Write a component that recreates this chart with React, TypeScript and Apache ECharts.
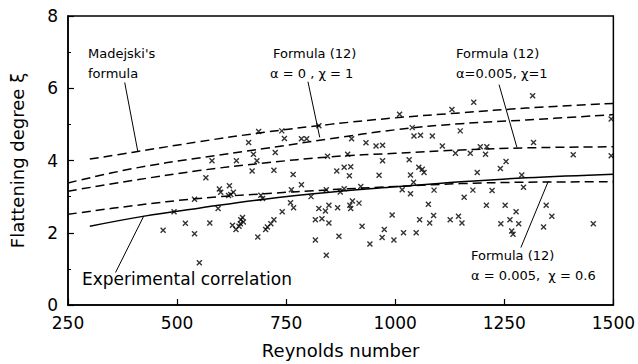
import React, { useEffect, useRef } from "react";
import * as echarts from "echarts";

// ---- axis ticks ----
const xTicks = [250, 500, 750, 1000, 1250, 1500];
const yTicks = [0, 2, 4, 6, 8];

// ---- curves (Reynolds number -> flattening degree) ----
const madejskiX = [300, 400, 550, 700, 850, 1000, 1150, 1300, 1500];
const madejskiY = [4.04, 4.23, 4.52, 4.78, 5.0, 5.18, 5.32, 5.45, 5.58];

const f12a0c1X = [250, 400, 550, 700, 850, 1000, 1150, 1300, 1500];
const f12a0c1Y = [3.38, 3.78, 4.07, 4.33, 4.6, 4.85, 5.02, 5.12, 5.27];

const f12a005c1X = [250, 400, 550, 700, 850, 1000, 1150, 1300, 1500];
const f12a005c1Y = [3.15, 3.45, 3.72, 3.93, 4.1, 4.2, 4.29, 4.35, 4.38];

const f12a005c06X = [250, 400, 550, 700, 850, 1000, 1150, 1300, 1500];
const f12a005c06Y = [2.51, 2.75, 2.95, 3.08, 3.19, 3.28, 3.36, 3.4, 3.41];

const expX = [300, 425, 550, 700, 850, 1000, 1150, 1300, 1500];
const expY = [2.18, 2.46, 2.68, 2.93, 3.12, 3.27, 3.41, 3.52, 3.62];

// ---- measured points ----
const measRe = [
  566, 580, 636, 664, 675, 683, 687, 740, 746, 785, 797, 725, 672, 722, 766, 825, 845, 866, 883, 898,
  895, 891, 900, 933, 956, 971, 971, 963, 1010, 1039, 1043, 1058, 1085, 1032, 1035, 1054, 1062, 1066, 1108, 1130,
  1138, 1149, 1172, 1180, 1188, 1195, 1210, 1207, 1241, 1254, 1290, 1315, 1317, 1408, 1495, 1495,
  468, 493, 519, 540, 540, 551, 575, 594, 597, 600, 620, 618, 629, 623, 627, 635, 642, 645, 646, 650,
  652, 685, 692, 696, 703, 707, 715, 722, 741, 760, 767, 762, 785, 807, 817, 832, 848, 825, 840, 848,
  868, 842, 874, 871, 817, 842, 883, 921, 1042, 1016, 1035, 1089, 1178, 1158, 1076, 902, 896, 898, 917, 993,
  1088, 1056, 1079, 1126, 1145, 1153, 924, 975, 970, 997, 1019, 1048, 942, 1222, 1294, 1209, 1252, 1277, 1263, 1242,
  1283, 1267, 1270, 1346, 1359, 1340, 1454,
];
const measXi = [
  3.52, 3.99, 3.99, 4.5, 4.17, 3.99, 4.8, 4.82, 4.61, 4.6, 4.6, 4.22, 3.71, 3.73, 3.61, 4.96, 4.12, 3.71, 3.81, 3.83,
  3.58, 4.17, 4.6, 4.49, 4.4, 4.42, 3.99, 3.59, 5.28, 4.91, 4.68, 4.7, 4.68, 4.02, 3.6, 3.81, 3.76, 3.67, 4.4, 5.41,
  4.2, 4.82, 4.2, 5.61, 3.67, 4.38, 4.38, 4.17, 3.78, 3.97, 3.6, 5.79, 4.5, 4.16, 5.15, 4.13,
  2.07, 2.58, 2.26, 1.97, 2.93, 1.17, 2.27, 2.67, 3.21, 3.12, 3.3, 3.03, 3.12, 3.06, 2.21, 2.09, 2.18, 2.25, 2.36, 2.42,
  2.3, 1.88, 3.04, 2.95, 2.09, 2.16, 2.25, 2.36, 2.58, 2.83, 2.69, 3.19, 3.33, 3.0, 2.36, 2.39, 2.27, 2.67, 2.6, 2.76,
  2.69, 3.19, 3.13, 1.9, 1.8, 1.38, 3.22, 3.28, 3.4, 3.19, 3.08, 3.18, 3.18, 2.98, 2.79, 2.88, 2.76, 2.67, 2.82, 2.49,
  2.48, 2.36, 2.27, 2.36, 2.46, 2.27, 2.18, 2.09, 1.87, 1.8, 2.0, 2.0, 1.69, 3.17, 3.26, 2.76, 2.76, 2.58, 2.36, 2.25,
  2.25, 2.05, 1.96, 2.76, 2.46, 2.16, 2.25,
];

// ---- leader lines for annotations: [x1, y1, x2, y2] in data units ----
const leaderMadejski = [380, 6.16, 410, 4.25];
const leaderA0C1 = [800, 6.18, 827, 4.64];
const leaderA005C1 = [1238, 6.1, 1279, 4.36];
const leaderA005C06 = [1288, 1.59, 1351, 3.43];
const leaderExp = [359, 0.9, 424, 2.47];

const FONT = "DejaVu Sans";

const zip = (xs: number[], ys: number[]) => xs.map((x, i) => [x, ys[i]]);

function curve(name: string, xs: number[], ys: number[], dashed: boolean) {
  return {
    name,
    type: "line",
    data: zip(xs, ys),
    smooth: 0.4,
    symbol: "none",
    silent: true,
    lineStyle: { color: "#000", width: 1.5, type: dashed ? [9, 5] : "solid" },
    z: 3,
  };
}

function leader(name: string, l: number[]) {
  return {
    name,
    type: "line",
    data: [
      [l[0], l[1]],
      [l[2], l[3]],
    ],
    symbol: "none",
    silent: true,
    lineStyle: { color: "#000", width: 1 },
    z: 4,
  };
}

function txt(x: number, y: number, text: string, size = 13) {
  return {
    type: "text",
    left: x,
    top: y,
    style: { text, fill: "#000", font: `${size}px "${FONT}"` },
    z: 10,
  };
}

export default function App() {
  const ref = useRef<HTMLDivElement>(null);
  useEffect(() => {
    const chart = echarts.init(ref.current!, null, { renderer: "svg" });
    chart.setOption({
      animation: false,
      backgroundColor: "#fff",
      grid: { left: 67, right: 23, top: 16, bottom: 57, show: true, borderColor: "#000", borderWidth: 1.5 },
      xAxis: {
        type: "value",
        min: xTicks[0],
        max: xTicks[xTicks.length - 1],
        interval: 250,
        name: "Reynolds number",
        nameLocation: "middle",
        nameGap: 36,
        nameTextStyle: { fontFamily: FONT, fontSize: 18, color: "#000" },
        axisLine: { show: true, lineStyle: { color: "#000", width: 1.5 } },
        axisTick: { show: true, inside: true, length: 6, lineStyle: { color: "#000", width: 1.2 } },
        axisLabel: { fontFamily: FONT, fontSize: 17, color: "#000", margin: 9, formatter: (v: number) => String(v) },
        splitLine: { show: false },
      },
      yAxis: {
        type: "value",
        min: yTicks[0],
        max: yTicks[yTicks.length - 1],
        interval: 2,
        name: "Flattening degree ξ",
        nameLocation: "middle",
        nameGap: 42,
        nameRotate: 90,
        nameTextStyle: { fontFamily: FONT, fontSize: 18, color: "#000" },
        axisLine: { show: true, lineStyle: { color: "#000", width: 1.5 } },
        axisTick: { show: true, inside: true, length: 6, lineStyle: { color: "#000", width: 1.2 } },
        minorTick: { show: true, splitNumber: 2, length: 3, lineStyle: { color: "#000" } },
        axisLabel: { fontFamily: FONT, fontSize: 17, color: "#000", margin: 10 },
        splitLine: { show: false },
      },
      series: [
        {
          name: "Measured",
          type: "scatter",
          data: zip(measRe, measXi),
          symbol: "path://M0 0L10 10M10 0L0 10",
          symbolSize: 5,
          itemStyle: { color: "none", borderColor: "#000", borderWidth: 1.4 },
          silent: true,
          z: 5,
        },
        curve("Madejski's formula", madejskiX, madejskiY, true),
        curve("Formula (12) α=0, χ=1", f12a0c1X, f12a0c1Y, true),
        curve("Formula (12) α=0.005, χ=1", f12a005c1X, f12a005c1Y, true),
        curve("Formula (12) α=0.005, χ=0.6", f12a005c06X, f12a005c06Y, true),
        curve("Experimental correlation", expX, expY, false),
        leader("l1", leaderMadejski),
        leader("l2", leaderA0C1),
        leader("l3", leaderA005C1),
        leader("l4", leaderA005C06),
        leader("l5", leaderExp),
      ],
      graphic: [
        txt(88, 47, "Madejski's"),
        txt(88, 67, "formula"),
        txt(273, 47, "Formula (12)"),
        txt(270, 67, "α = 0 , χ = 1"),
        txt(456, 47, "Formula (12)"),
        txt(456, 67, "α=0.005, χ=1"),
        txt(471, 249, "Formula (12)"),
        txt(471, 269, "α = 0.005,  χ = 0.6"),
        txt(82, 270, "Experimental correlation", 17),
      ],
    });
    return () => chart.dispose();
  }, []);
  return (
    <div
      ref={ref}
      style={{ position: "fixed", left: 0, top: 0, width: 638, height: 364, background: "#fff" }}
    />
  );
}
